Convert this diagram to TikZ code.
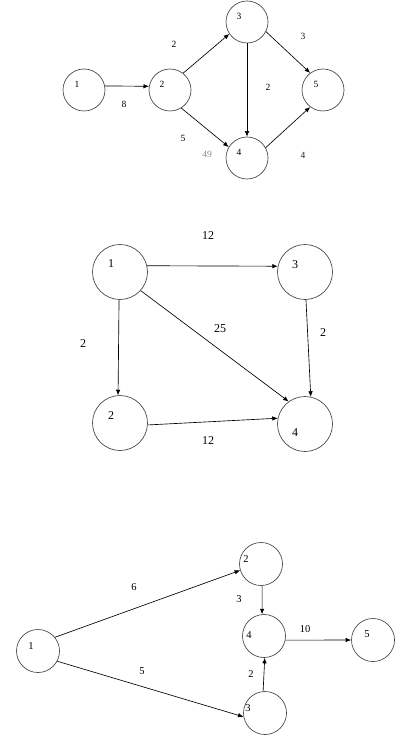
\documentclass[tikz,border=0pt]{standalone}
\usepackage{fontspec}
\setmainfont{Liberation Serif}
\usetikzlibrary{arrows.meta}
\begin{document}
\begin{tikzpicture}[x=1pt,y=-1pt,
  vA/.style={circle,draw=black!75,line width=0.65pt,minimum size=42pt,inner sep=0pt},
  vB/.style={circle,draw=black!75,line width=0.65pt,minimum size=55pt,inner sep=0pt},
  vC/.style={circle,draw=black!75,line width=0.65pt,minimum size=43pt,inner sep=0pt},
  arr/.style={line width=0.65pt,-{Latex[length=5.5pt,width=4.5pt]}},
  tA/.style={font=\fontsize{9.5}{11}\selectfont,inner sep=0pt},
  tB/.style={font=\fontsize{12}{14}\selectfont,inner sep=0pt},
  tC/.style={font=\fontsize{10.5}{12}\selectfont,inner sep=0pt}]
\useasboundingbox (0,0) rectangle (408,743);
% ---------- graph 1 ----------
\node[vA] (a1) at (84,90) {};
\node[vA] (a2) at (170,90) {};
\node[vA] (a3) at (247,22) {};
\node[vA] (a4) at (247,158) {};
\node[vA] (a5) at (323,90) {};
\node[tA] (a1t) at (77,84) {1};
\node[tA] (a2t) at (162,84) {2};
\node[tA] (a3t) at (239,16) {3};
\node[tA] (a4t) at (239,152) {4};
\node[tA] (a5t) at (316,84) {5};
\draw[arr] (a1.11) -- (a2.170);
\draw[arr] (a2.52) -- (a3.214);
\draw[arr] (a2.-58) -- (a4.149);
\draw[arr] (a3.-90) -- (a4.90);
\draw[arr] (a3.-27) -- (a5.127);
\draw[arr] (a4.29) -- (a5.233);
\node[tA] (a12l) at (124,104) {8};
\node[tA] (a23l) at (174,44) {2};
\node[tA] (a24l) at (183,138) {5};
\node[tA] (a34l) at (268,87) {2};
\node[tA,text=black!80!brown] (a35l) at (303,36) {3};
\node[tA,text=black!75!brown] (a45l) at (303,155) {4};
\node[tA,text=black!45] (a49) at (207,154) {49};
% ---------- graph 2 ----------
\node[vB] (b1) at (120,272) {};
\node[vB] (b3) at (305,272) {};
\node[vB] (b2) at (120,423) {};
\node[vB] (b4) at (305,424) {};
\node[tB] (b1t) at (111,264) {1};
\node[tB] (b3t) at (295,265) {3};
\node[tB] (b2t) at (111,416) {2};
\node[tB] (b4t) at (295,433) {4};
\draw[arr] (b1.13) -- (b3.168);
\draw[arr] (b1.-92) -- (b2.94);
\draw[arr] (b1.-42) -- (b4.126);
\draw[arr] (b3.-88) -- (b4.78);
\draw[arr] (b2.-4) -- (b4.168);
\node[tB] (b13l) at (208,236) {12};
\node[tB] (b12l) at (83,344) {2};
\node[tB] (b14l) at (220,329) {25};
\node[tB] (b34l) at (323,333) {2};
\node[tB] (b24l) at (208,441) {12};
% ---------- graph 3 ----------
\node[vC] (c1) at (38,651) {};
\node[vC] (c2) at (261,564) {};
\node[vC] (c4) at (264,636) {};
\node[vC] (c5) at (373,640) {};
\node[vC] (c3) at (265,713) {};
\node[tC] (c1t) at (31,646) {1};
\node[tC] (c2t) at (246,559) {2};
\node[tC] (c4t) at (249,635) {4};
\node[tC] (c5t) at (367,634) {5};
\node[tC] (c3t) at (248,708) {3};
\draw[arr] (c1.39) -- (c2.197);
\draw[arr] (c1.-28) -- (c3.190);
\draw[arr] (c2.-87) -- (c4.95);
\draw[arr] (c3.95) -- (c4.-88);
\draw[arr] (c4.-11) -- (c5.180);
\node[tC] (c12l) at (134,587) {6};
\node[tC] (c13l) at (142,671) {5};
\node[tC] (c24l) at (239,599) {3};
\node[tC] (c34l) at (251,674) {2};
\node[tC] (c45l) at (305,629) {10};
\end{tikzpicture}
\end{document}
